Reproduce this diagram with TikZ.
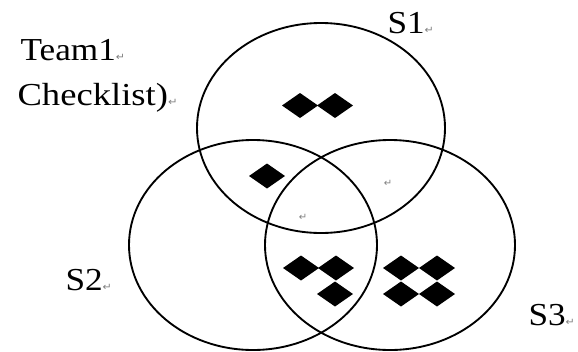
\documentclass[tikz,border=0pt]{standalone}
\usepackage{fontspec}
\setmainfont{Liberation Serif}
\newfontfamily\symfont{DejaVu Sans}

\newcommand{\retmark}{{\color{gray}\fontsize{7.5}{7.5}\symfont ↵}}

\tikzset{every picture/.style={line width=0.75pt}}
\tikzset{
  setring/.style={line width=1.4pt},
  setlabel/.style={anchor=base west,inner sep=0pt,font=\fontsize{24}{28}\selectfont,xscale=1.1},
  gem/.pic={\fill (-18,0) -- (0,-12.5) -- (18,0) -- (0,12.5) -- cycle ;}
}

\begin{document}
\begin{tikzpicture}[x=0.75pt,y=0.75pt,yscale=-1,xscale=1]
\useasboundingbox (0,0) rectangle (578,351);

%Shape: Ellipse S1
\draw [setring] (321,128) ellipse [x radius=124, y radius=105] ;
%Shape: Ellipse S2
\draw [setring] (253,245) ellipse [x radius=124, y radius=105] ;
%Shape: Ellipse S3
\draw [setring] (390,245) ellipse [x radius=125, y radius=105] ;

%Diamonds in S1 only
\pic at (300,105.5) {gem} ;
\pic at (335,105.5) {gem} ;
%Diamond in S1 and S2
\pic at (267,176) {gem} ;
%Diamonds in S2 and S3
\pic at (301,268) {gem} ;
\pic at (336,268) {gem} ;
\pic at (335,294) {gem} ;
%Diamonds in S3 only
\pic at (401,268) {gem} ;
\pic at (437,268) {gem} ;
\pic at (401,294) {gem} ;
\pic at (437,294) {gem} ;

% Text Node
\node (team) [setlabel] at (20,60) {Team1\retmark};
% Text Node
\node (check) [setlabel,xscale=1.04] at (17,105) {Checklist)\retmark};
% Text Node
\node (s1) [setlabel] at (387,33) {S1\retmark};
% Text Node
\node (s2) [setlabel] at (65,290) {S2\retmark};
% Text Node
\node (s3) [setlabel] at (528,325) {S3\retmark};
% Text Node
\node (retA) [inner sep=0pt] at (303,217) {\retmark};
% Text Node
\node (retB) [inner sep=0pt] at (388,183) {\retmark};

\end{tikzpicture}
\end{document}
